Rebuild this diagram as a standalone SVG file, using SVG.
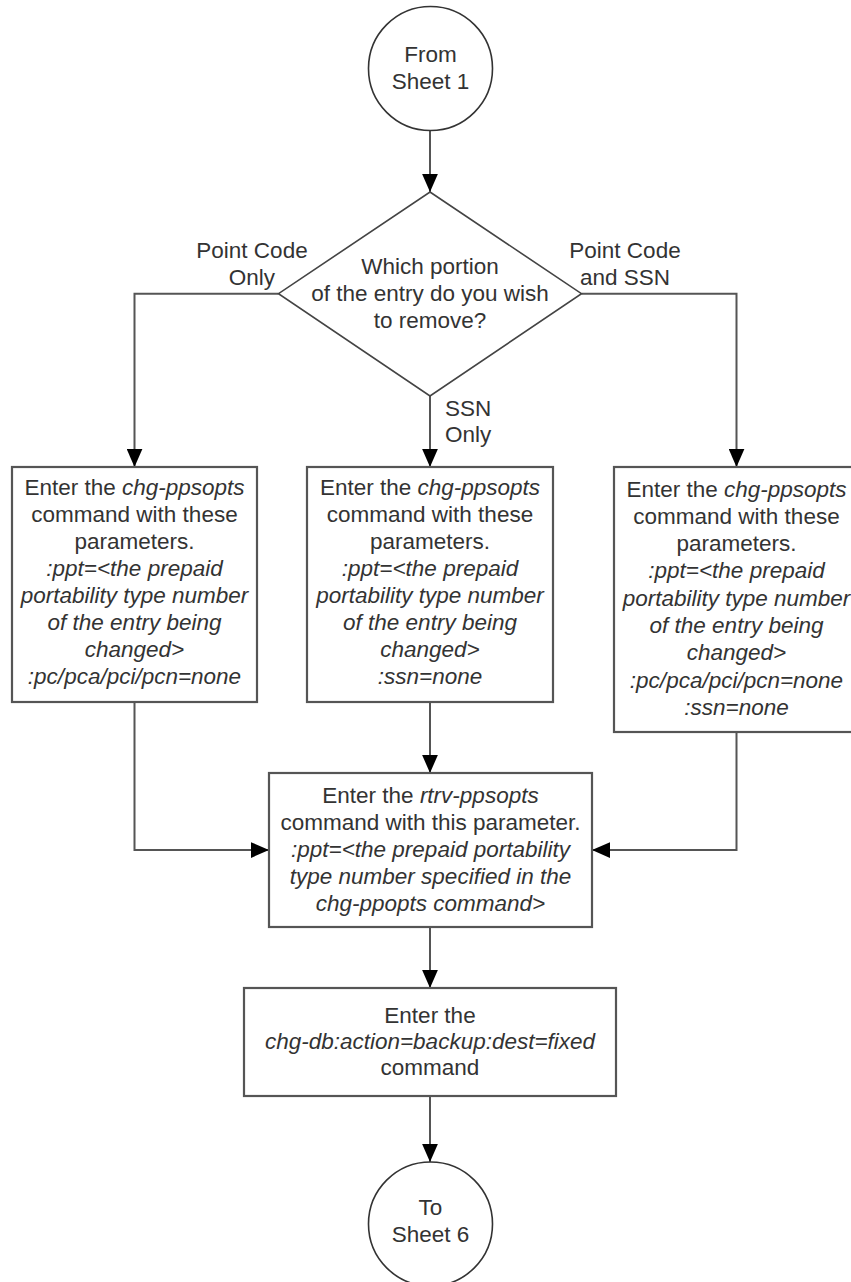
<svg xmlns="http://www.w3.org/2000/svg" width="851" height="1282" viewBox="0 0 851 1282">
<defs>
<marker id="arr" markerUnits="userSpaceOnUse" markerWidth="18" markerHeight="16" viewBox="0 0 16 14" refX="16" refY="7" orient="auto">
<path d="M0,0 L16,7 L0,14 Z" fill="#000"/>
</marker>
<style>
text{font-family:"Liberation Sans",Arial,sans-serif;font-size:22.5px;fill:#333;text-anchor:middle}
.i{font-style:italic}
.l{text-anchor:start}
.box{fill:#fff;stroke:#555;stroke-width:2.2}
.circ{fill:#fff;stroke:#333;stroke-width:1.6}
.dia{fill:#fff;stroke:#444;stroke-width:1.6}
.con{fill:none;stroke:#555;stroke-width:2;marker-end:url(#arr)}
</style>
</defs>
<rect width="851" height="1282" fill="#fff"/>
<g id="connectors">
<path class="con" d="M430,130 V192"/>
<path class="con" d="M278.5,293.7 H134.5 V467"/>
<path class="con" d="M430,396 V467"/>
<path class="con" d="M581.5,293.7 H736.5 V467"/>
<path class="con" d="M134.5,702 V850 H269"/>
<path class="con" d="M430,702 V773"/>
<path class="con" d="M736.5,732 V850 H592"/>
<path class="con" d="M430,927 V988"/>
<path class="con" d="M430,1096 V1162"/>
</g>
<g id="start">
<circle class="circ" cx="430.5" cy="68.5" r="62"/>
<text x="430.5" y="62">From</text>
<text x="430.5" y="89">Sheet 1</text>
</g>
<g id="decision">
<path class="dia" d="M430,192 L581.5,293.7 L430,396 L278.5,293.7 Z"/>
<text x="430" y="274">Which portion</text>
<text x="430" y="301">of the entry do you wish</text>
<text x="430" y="328">to remove?</text>
</g>
<g id="labels">
<text x="252" y="258">Point Code</text>
<text x="252" y="285">Only</text>
<text x="625" y="258">Point Code</text>
<text x="625" y="285">and SSN</text>
<text class="l" x="445" y="416">SSN</text>
<text class="l" x="445" y="442">Only</text>
</g>
<g id="box-pc">
<rect class="box" x="12" y="467" width="245" height="235"/>
<text x="134.5" y="495">Enter the <tspan class="i">chg-ppsopts</tspan></text>
<text x="134.5" y="522">command with these</text>
<text x="134.5" y="549">parameters.</text>
<text class="i" x="134.5" y="576">:ppt=&lt;the prepaid</text>
<text class="i" x="134.5" y="603">portability type number</text>
<text class="i" x="134.5" y="630">of the entry being</text>
<text class="i" x="134.5" y="657">changed&gt;</text>
<text class="i" x="134.5" y="684">:pc/pca/pci/pcn=none</text>
</g>
<g id="box-ssn">
<rect class="box" x="307" y="467" width="246" height="235"/>
<text x="430" y="495">Enter the <tspan class="i">chg-ppsopts</tspan></text>
<text x="430" y="522">command with these</text>
<text x="430" y="549">parameters.</text>
<text class="i" x="430" y="576">:ppt=&lt;the prepaid</text>
<text class="i" x="430" y="603">portability type number</text>
<text class="i" x="430" y="630">of the entry being</text>
<text class="i" x="430" y="657">changed&gt;</text>
<text class="i" x="430" y="684">:ssn=none</text>
</g>
<g id="box-pcssn">
<rect class="box" x="614" y="467" width="245" height="265"/>
<text x="736.5" y="497">Enter the <tspan class="i">chg-ppsopts</tspan></text>
<text x="736.5" y="524">command with these</text>
<text x="736.5" y="551">parameters.</text>
<text class="i" x="736.5" y="578">:ppt=&lt;the prepaid</text>
<text class="i" x="736.5" y="606">portability type number</text>
<text class="i" x="736.5" y="633">of the entry being</text>
<text class="i" x="736.5" y="660">changed&gt;</text>
<text class="i" x="736.5" y="688">:pc/pca/pci/pcn=none</text>
<text class="i" x="736.5" y="715">:ssn=none</text>
</g>
<g id="box-rtrv">
<rect class="box" x="269" y="773" width="323" height="154"/>
<text x="430.5" y="803">Enter the <tspan class="i">rtrv-ppsopts</tspan></text>
<text x="430.5" y="830">command with this parameter.</text>
<text class="i" x="430.5" y="857">:ppt=&lt;the prepaid portability</text>
<text class="i" x="430.5" y="884">type number specified in the</text>
<text class="i" x="430.5" y="911">chg-ppopts command&gt;</text>
</g>
<g id="box-backup">
<rect class="box" x="244" y="988" width="372" height="108"/>
<text x="430" y="1023">Enter the</text>
<text class="i" x="430" y="1049">chg-db:action=backup:dest=fixed</text>
<text x="430" y="1075">command</text>
</g>
<g id="end">
<circle class="circ" cx="430.5" cy="1224" r="62"/>
<text x="430.5" y="1215">To</text>
<text x="430.5" y="1242">Sheet 6</text>
</g>
</svg>
